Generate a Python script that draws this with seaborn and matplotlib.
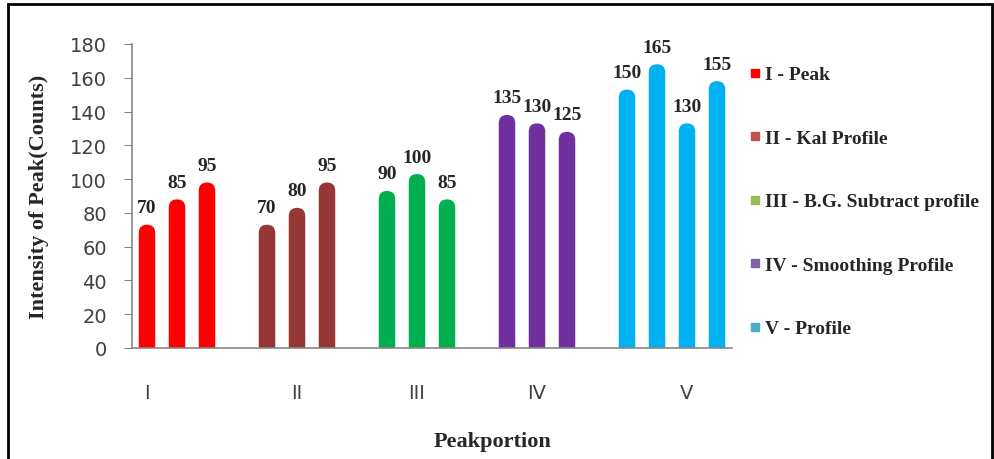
import pandas as pd
import matplotlib.pyplot as plt
import seaborn as sns
from matplotlib.patches import FancyBboxPatch, Rectangle
from matplotlib.lines import Line2D

# data
groups = ['I', 'II', 'III', 'IV', 'V']
series_names = ['I - Peak', 'II - Kal Profile', 'III - B.G. Subtract profile',
                'IV - Smoothing Profile', 'V - Profile']
values = {
    'I': [70, 85, 95],
    'II': [70, 80, 95],
    'III': [90, 100, 85],
    'IV': [135, 130, 125],
    'V': [150, 165, 130, 155],
}
bar_colors = ['#FF0000', '#953735', '#00B050', '#7030A0', '#00B0F0']
legend_colors = ['#FF0000', '#C0504D', '#9BBB59', '#8064A2', '#4BACC6']

# slot layout: each group starts 4 slots after the previous one
group_start = [0, 4, 8, 12, 16]
label_slot = [0, 5, 9, 13, 18]

rows = []
for g, start, name in zip(groups, group_start, series_names):
    for i, v in enumerate(values[g]):
        rows.append({'pos': start + i, 'value': v, 'series': name})
df = pd.DataFrame(rows)

sns.set_style('white')
fig = plt.figure(figsize=(9.95, 4.6), dpi=100)
ax = fig.add_axes([132 / 995, 1 - 349 / 460, 600 / 995, 304 / 460])

sns.barplot(data=df, x='pos', y='value', hue='series', native_scale=True,
            palette=dict(zip(series_names, bar_colors)), dodge=False,
            width=0.55, legend=False, ax=ax, saturation=1)
ax.set_xlim(-0.5, 19.5)
ax.set_ylim(0, 180)

# swap the flat bars for rounded-top ones
cap = 3
aspect = (180 / 304) / (20 / 600)
for p in list(ax.patches):
    x, w, h = p.get_x(), p.get_width(), p.get_height()
    if h <= 0:
        continue
    fc = p.get_facecolor()
    p.remove()
    ax.add_patch(FancyBboxPatch((x, -10), w, h + 10 + cap,
                                boxstyle=f'round,pad=0,rounding_size={w / 2}',
                                mutation_aspect=aspect, fc=fc, ec='none',
                                clip_on=True))
    ax.text(x + w / 2, h + cap + 5, f'{h:.0f}', ha='center', va='bottom',
            fontsize=14, fontweight='bold', family='Liberation Serif')

ax.set_yticks(range(0, 181, 20))
ax.set_xticks(label_slot)
ax.set_xticklabels(groups)
ax.tick_params(axis='y', length=6, color='#868686', labelsize=14, pad=12,
               labelcolor='#404040', direction='out', left=True)
ax.tick_params(axis='x', length=0, pad=25, labelsize=14, labelcolor='#404040')
for lab in ax.get_xticklabels() + ax.get_yticklabels():
    lab.set_family('DejaVu Sans')

for s in ['top', 'right']:
    ax.spines[s].set_visible(False)
for s in ['left', 'bottom']:
    ax.spines[s].set_color('#868686')
    ax.spines[s].set_linewidth(1.2)

ax.set_ylabel('Intensity of Peak(Counts)', fontsize=16, fontweight='bold',
              family='Liberation Serif')
ax.yaxis.set_label_coords(-0.138, 0.5)
ax.set_xlabel('Peakportion', fontsize=16, fontweight='bold',
              family='Liberation Serif')
ax.xaxis.set_label_coords(0.6, -0.273)

handles = [Line2D([], [], ls='none', marker='s', ms=6, mfc=c, mec=c)
           for c in legend_colors]
fig.legend(handles, series_names, loc='upper left',
           bbox_to_anchor=(740 / 995, 1 - 57 / 460), frameon=False,
           handlelength=0.5, handletextpad=0.3, labelspacing=2.36,
           borderpad=0, prop={'family': 'Liberation Serif', 'weight': 'bold',
                              'size': 14})

# outer frame of the figure
fig.patches.append(Rectangle((8 / 995, -0.1), 984 / 995, 1 - 5 / 460 + 0.1,
                             transform=fig.transFigure, fill=False,
                             ec='black', lw=2))

fig.savefig('out.png', dpi=100)
